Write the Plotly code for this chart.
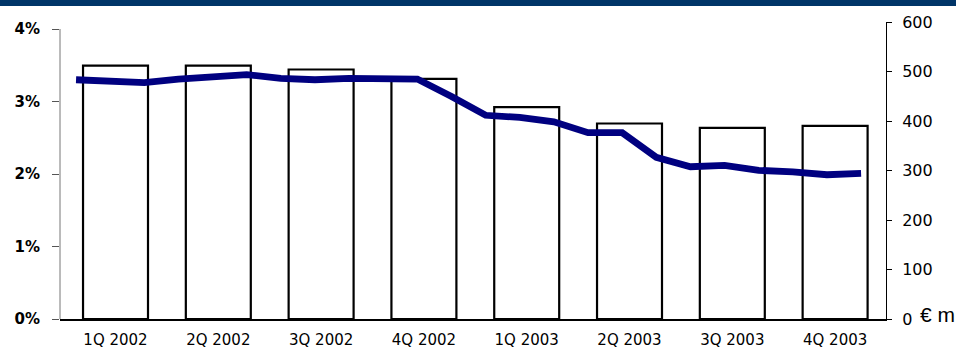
import plotly.graph_objects as go

# Quarterly figures (bars, right axis, € m)
quarters = ["1Q 2002", "2Q 2002", "3Q 2002", "4Q 2002",
            "1Q 2003", "2Q 2003", "3Q 2003", "4Q 2003"]
quarter_values = [512, 512, 504, 485, 428, 395, 386, 390]

# Monthly ratio (line, left axis, %)
month_index = list(range(24))
month_ratio = [3.30, 3.28, 3.26, 3.31, 3.33, 3.37,
               3.32, 3.30, 3.32, 3.31, 3.31, 3.07,
               2.81, 2.78, 2.72, 2.57, 2.57, 2.23,
               2.10, 2.12, 2.05, 2.03, 1.99, 2.01]

pct_ticks = [0, 1, 2, 3, 4]
pct_labels = [f"{v}%" for v in pct_ticks]
eur_ticks = [0, 100, 200, 300, 400, 500, 600]

FONT = "DejaVu Sans"
NAVY_LINE = "#000080"
BAND = "#003568"

fig = go.Figure()

# bars live on the main subplot (x, y); y is the € m scale on the right
fig.add_trace(go.Bar(
    x=list(range(len(quarters))), y=quarter_values,
    xaxis="x", yaxis="y",
    width=0.632,
    marker=dict(color="white", line=dict(color="black", width=2.2)),
    showlegend=False, hoverinfo="skip",
))

# monthly line on the overlaid pair (x2, y2); y2 is the % scale on the left
fig.add_trace(go.Scatter(
    x=month_index, y=month_ratio,
    xaxis="x2", yaxis="y2",
    mode="lines",
    line=dict(color=NAVY_LINE, width=6.8),
    showlegend=False, hoverinfo="skip",
))

fig.update_layout(
    width=956, height=351,
    margin=dict(l=60, r=70, t=22, b=32, pad=0),
    paper_bgcolor="white", plot_bgcolor="white",
    font=dict(family=FONT, color="black"),
    xaxis=dict(
        range=[-0.54, 7.495],
        tickvals=list(range(len(quarters))), ticktext=quarters,
        tickfont=dict(size=15, family=FONT),
        ticks="", showgrid=False, zeroline=False,
        showline=True, linecolor="black", linewidth=1.5,
        anchor="y", ticklabelstandoff=6, automargin=False,
    ),
    xaxis2=dict(
        range=[-0.47, 23.73], overlaying="x", anchor="y2",
        visible=False, showgrid=False, zeroline=False,
    ),
    yaxis=dict(
        range=[0, 600],
        tickvals=eur_ticks,
        tickfont=dict(size=16, family=FONT),
        ticks="outside", ticklen=5, tickcolor="black", tickwidth=1,
        showline=True, linecolor="black", linewidth=1,
        showgrid=False, zeroline=False,
        anchor="x", side="right",
        ticklabelstandoff=7, automargin=False,
    ),
    yaxis2=dict(
        range=[0, 4 * 297 / 290], overlaying="y",
        tickvals=pct_ticks, ticktext=pct_labels,
        tickfont=dict(size=15, family=FONT, weight="bold"),
        ticks="outside", ticklen=7, tickcolor="#555", tickwidth=1,
        showline=False, showgrid=False, zeroline=False,
        anchor="x", side="left",
        ticklabelstandoff=9, automargin=False,
    ),
    shapes=[
        # left axis line, running from 0% up to the 4% tick
        dict(type="line", xref="paper", yref="y2",
             x0=0, x1=0, y0=0, y1=pct_ticks[-1],
             line=dict(color="#777", width=1)),
        dict(type="rect", xref="paper", yref="paper",
             x0=-0.08, x1=1.09, y0=1.054, y1=1.08,
             fillcolor=BAND, line=dict(width=0), layer="above"),
    ],
    annotations=[
        dict(text="€ m", xref="paper", yref="paper",
             x=1.0387, y=0.015, xanchor="left", yanchor="middle",
             showarrow=False,
             font=dict(size=21, family="Liberation Sans")),
    ],
)

fig.write_html("out.html")
